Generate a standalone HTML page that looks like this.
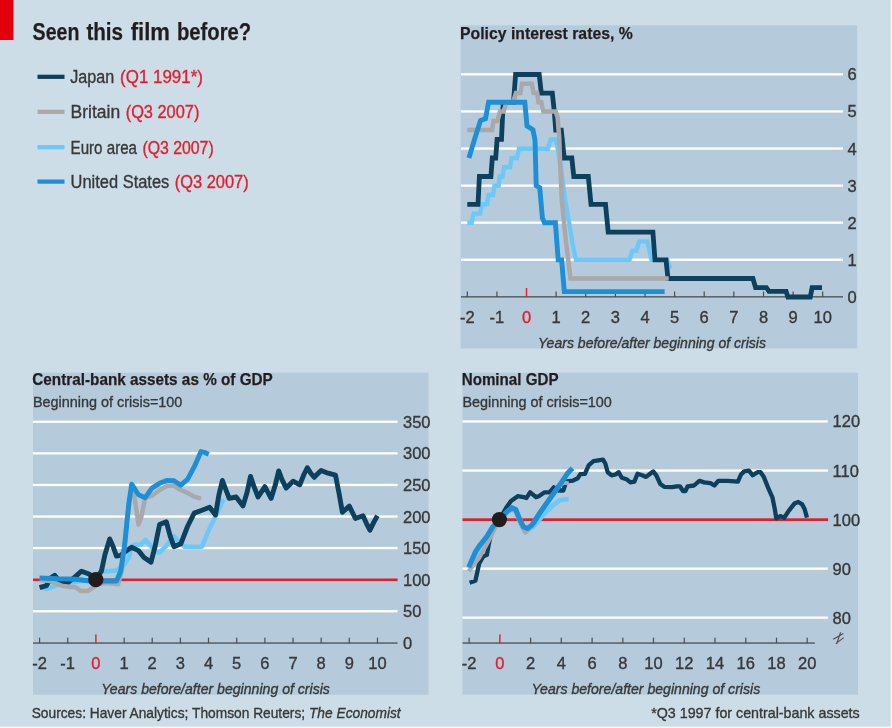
<!DOCTYPE html>
<html><head><meta charset="utf-8"><title>Seen this film before?</title>
<style>html,body{margin:0;padding:0;background:#ccdde7;}svg{display:block;font-family:"Liberation Sans",sans-serif;}</style>
</head><body>
<svg width="892" height="728" viewBox="0 0 892 728">
<rect x="0" y="0" width="892" height="728" fill="#ccdde7"/>
<rect x="890.7" y="0" width="1.3" height="728" fill="#f4f8fa"/>
<rect x="0" y="726.6" width="892" height="1.4" fill="#f4f8fa"/>
<defs><filter id="soft" x="-2%" y="-2%" width="104%" height="104%"><feGaussianBlur stdDeviation="0.45"/></filter></defs>
<g filter="url(#soft)">
<rect x="-6" y="-6" width="19.5" height="46" fill="#e3000f"/>
<rect x="460.6" y="25.3" width="396.6" height="323.2" fill="#b5cbdb"/>
<rect x="33" y="372.6" width="395.5" height="322.2" fill="#b5cbdb"/>
<rect x="462.4" y="372.6" width="395.6" height="322" fill="#b5cbdb"/>
<text x="32.6" y="40.2" font-size="23.5" fill="#231f20" stroke="#231f20" stroke-width="0.25" font-weight="bold" font-style="normal" text-anchor="start" textLength="46.8" lengthAdjust="spacingAndGlyphs">Seen</text>
<text x="86.4" y="40.2" font-size="23.5" fill="#231f20" stroke="#231f20" stroke-width="0.25" font-weight="bold" font-style="normal" text-anchor="start" textLength="36.7" lengthAdjust="spacingAndGlyphs">this</text>
<text x="130.7" y="40.2" font-size="23.5" fill="#231f20" stroke="#231f20" stroke-width="0.25" font-weight="bold" font-style="normal" text-anchor="start" textLength="39.2" lengthAdjust="spacingAndGlyphs">film</text>
<text x="177.0" y="40.2" font-size="23.5" fill="#231f20" stroke="#231f20" stroke-width="0.25" font-weight="bold" font-style="normal" text-anchor="start" textLength="74.2" lengthAdjust="spacingAndGlyphs">before?</text>
<rect x="37.5" y="74.7" width="27" height="4.2" fill="#0c3f5d"/>
<text x="70.3" y="83.2" font-size="17.5" fill="#383838" stroke="#383838" stroke-width="0.35" font-weight="normal" font-style="normal" text-anchor="start" textLength="43.9" lengthAdjust="spacingAndGlyphs">Japan</text>
<text x="120.1" y="83.2" font-size="17.5" fill="#e0202e" stroke="#e0202e" stroke-width="0.35" font-weight="normal" font-style="normal" text-anchor="start" textLength="82.8" lengthAdjust="spacingAndGlyphs">(Q1 1991*)</text>
<rect x="37.5" y="109.7" width="27" height="4.2" fill="#a9a8aa"/>
<text x="70.6" y="118.2" font-size="17.5" fill="#383838" stroke="#383838" stroke-width="0.35" font-weight="normal" font-style="normal" text-anchor="start" textLength="49.5" lengthAdjust="spacingAndGlyphs">Britain</text>
<text x="125.7" y="118.2" font-size="17.5" fill="#e0202e" stroke="#e0202e" stroke-width="0.35" font-weight="normal" font-style="normal" text-anchor="start" textLength="73.7" lengthAdjust="spacingAndGlyphs">(Q3 2007)</text>
<rect x="37.5" y="145.1" width="27" height="4.2" fill="#6cc8f6"/>
<text x="70.6" y="153.6" font-size="17.5" fill="#383838" stroke="#383838" stroke-width="0.35" font-weight="normal" font-style="normal" text-anchor="start" textLength="66.4" lengthAdjust="spacingAndGlyphs">Euro area</text>
<text x="142.4" y="153.6" font-size="17.5" fill="#e0202e" stroke="#e0202e" stroke-width="0.35" font-weight="normal" font-style="normal" text-anchor="start" textLength="71.3" lengthAdjust="spacingAndGlyphs">(Q3 2007)</text>
<rect x="37.5" y="179.5" width="27" height="4.2" fill="#1a8fd7"/>
<text x="70.6" y="188.0" font-size="17.5" fill="#383838" stroke="#383838" stroke-width="0.35" font-weight="normal" font-style="normal" text-anchor="start" textLength="98.7" lengthAdjust="spacingAndGlyphs">United States</text>
<text x="174.7" y="188.0" font-size="17.5" fill="#e0202e" stroke="#e0202e" stroke-width="0.35" font-weight="normal" font-style="normal" text-anchor="start" textLength="74.0" lengthAdjust="spacingAndGlyphs">(Q3 2007)</text>
<text x="460.1" y="38.5" font-size="17" fill="#231f20" stroke="#231f20" stroke-width="0.25" font-weight="bold" font-style="normal" text-anchor="start" textLength="172.6" lengthAdjust="spacingAndGlyphs">Policy interest rates, %</text>
<rect x="461" y="258.6" width="382" height="2.3" fill="#fff"/>
<rect x="461" y="221.5" width="382" height="2.3" fill="#fff"/>
<rect x="461" y="184.5" width="382" height="2.3" fill="#fff"/>
<rect x="461" y="147.4" width="382" height="2.3" fill="#fff"/>
<rect x="461" y="110.3" width="382" height="2.3" fill="#fff"/>
<rect x="461" y="73.2" width="382" height="2.3" fill="#fff"/>
<rect x="461" y="296.2" width="382" height="1.3" fill="#4d4d4d"/>
<rect x="466.7" y="291.5" width="1.2" height="5.5" fill="#4d4d4d"/>
<text x="467.3" y="322.6" font-size="16.5" fill="#383838" stroke="#383838" stroke-width="0.35" font-weight="normal" font-style="normal" text-anchor="middle">-2</text>
<rect x="496.3" y="291.5" width="1.2" height="5.5" fill="#4d4d4d"/>
<text x="496.9" y="322.6" font-size="16.5" fill="#383838" stroke="#383838" stroke-width="0.35" font-weight="normal" font-style="normal" text-anchor="middle">-1</text>
<rect x="525.8" y="288" width="1.4" height="9" fill="#e0202e"/>
<text x="526.5" y="322.6" font-size="16.5" fill="#e0202e" stroke="#e0202e" stroke-width="0.35" font-weight="normal" font-style="normal" text-anchor="middle">0</text>
<rect x="555.5" y="291.5" width="1.2" height="5.5" fill="#4d4d4d"/>
<text x="556.1" y="322.6" font-size="16.5" fill="#383838" stroke="#383838" stroke-width="0.35" font-weight="normal" font-style="normal" text-anchor="middle">1</text>
<rect x="585.1" y="291.5" width="1.2" height="5.5" fill="#4d4d4d"/>
<text x="585.7" y="322.6" font-size="16.5" fill="#383838" stroke="#383838" stroke-width="0.35" font-weight="normal" font-style="normal" text-anchor="middle">2</text>
<rect x="614.8" y="291.5" width="1.2" height="5.5" fill="#4d4d4d"/>
<text x="615.4" y="322.6" font-size="16.5" fill="#383838" stroke="#383838" stroke-width="0.35" font-weight="normal" font-style="normal" text-anchor="middle">3</text>
<rect x="644.4" y="291.5" width="1.2" height="5.5" fill="#4d4d4d"/>
<text x="645.0" y="322.6" font-size="16.5" fill="#383838" stroke="#383838" stroke-width="0.35" font-weight="normal" font-style="normal" text-anchor="middle">4</text>
<rect x="674.0" y="291.5" width="1.2" height="5.5" fill="#4d4d4d"/>
<text x="674.6" y="322.6" font-size="16.5" fill="#383838" stroke="#383838" stroke-width="0.35" font-weight="normal" font-style="normal" text-anchor="middle">5</text>
<rect x="703.6" y="291.5" width="1.2" height="5.5" fill="#4d4d4d"/>
<text x="704.2" y="322.6" font-size="16.5" fill="#383838" stroke="#383838" stroke-width="0.35" font-weight="normal" font-style="normal" text-anchor="middle">6</text>
<rect x="733.2" y="291.5" width="1.2" height="5.5" fill="#4d4d4d"/>
<text x="733.8" y="322.6" font-size="16.5" fill="#383838" stroke="#383838" stroke-width="0.35" font-weight="normal" font-style="normal" text-anchor="middle">7</text>
<rect x="762.9" y="291.5" width="1.2" height="5.5" fill="#4d4d4d"/>
<text x="763.5" y="322.6" font-size="16.5" fill="#383838" stroke="#383838" stroke-width="0.35" font-weight="normal" font-style="normal" text-anchor="middle">8</text>
<rect x="792.5" y="291.5" width="1.2" height="5.5" fill="#4d4d4d"/>
<text x="793.1" y="322.6" font-size="16.5" fill="#383838" stroke="#383838" stroke-width="0.35" font-weight="normal" font-style="normal" text-anchor="middle">9</text>
<rect x="822.1" y="291.5" width="1.2" height="5.5" fill="#4d4d4d"/>
<text x="822.7" y="322.6" font-size="16.5" fill="#383838" stroke="#383838" stroke-width="0.35" font-weight="normal" font-style="normal" text-anchor="middle">10</text>
<text x="847.5" y="302.8" font-size="16.5" fill="#383838" stroke="#383838" stroke-width="0.35" font-weight="normal" font-style="normal" text-anchor="start">0</text>
<text x="847.5" y="265.7" font-size="16.5" fill="#383838" stroke="#383838" stroke-width="0.35" font-weight="normal" font-style="normal" text-anchor="start">1</text>
<text x="847.5" y="228.6" font-size="16.5" fill="#383838" stroke="#383838" stroke-width="0.35" font-weight="normal" font-style="normal" text-anchor="start">2</text>
<text x="847.5" y="191.6" font-size="16.5" fill="#383838" stroke="#383838" stroke-width="0.35" font-weight="normal" font-style="normal" text-anchor="start">3</text>
<text x="847.5" y="154.5" font-size="16.5" fill="#383838" stroke="#383838" stroke-width="0.35" font-weight="normal" font-style="normal" text-anchor="start">4</text>
<text x="847.5" y="117.4" font-size="16.5" fill="#383838" stroke="#383838" stroke-width="0.35" font-weight="normal" font-style="normal" text-anchor="start">5</text>
<text x="847.5" y="80.3" font-size="16.5" fill="#383838" stroke="#383838" stroke-width="0.35" font-weight="normal" font-style="normal" text-anchor="start">6</text>
<text x="538.0" y="348.2" font-size="14.5" fill="#383838" stroke="#383838" stroke-width="0.35" font-weight="normal" font-style="italic" text-anchor="start" textLength="228.0" lengthAdjust="spacingAndGlyphs">Years before/after beginning of crisis</text>
<polyline points="467.3,222.8 471.5,222.8 473.7,213.6 480.0,213.6 482.0,204.3 487.0,204.3 488.5,195.0 493.0,195.0 494.5,185.8 498.5,185.8 500.0,176.5 502.5,176.5 504.0,167.2 510.0,167.2 511.5,158.0 517.0,158.0 519.0,148.7 548.0,148.7 550.7,139.4 556.0,139.4 558.0,150.0 560.5,165.0 565.2,200.0 569.0,222.0 572.6,244.0 576.0,259.9 629.5,259.9 632.3,250.7 636.4,250.7 639.1,241.4 647.4,241.4 649.5,250.7 651.5,259.9 667.3,259.9 670.3,268.4" fill="none" stroke="#6cc8f6" stroke-width="4.4" stroke-linejoin="miter" stroke-miterlimit="2" stroke-linecap="butt"/>
<polyline points="467.3,204.3 478.0,204.3 479.4,176.5 490.9,176.5 492.3,158.0 495.7,158.0 497.1,139.4 501.5,139.4 503.2,102.3 513.5,102.3 515.6,74.5 539.2,74.5 541.3,93.1 552.3,93.1 554.3,111.6 555.7,130.1 561.3,130.1 564.2,158.0 571.8,158.0 573.8,176.5 588.3,176.5 591.0,204.3 605.5,204.3 608.2,232.1 652.9,232.1 655.0,259.9 666.0,259.9 668.0,278.5 752.9,278.5 755.6,287.7 766.4,287.7 769.0,291.4 786.1,291.4 787.9,297.0 810.3,297.0 812.1,287.7 822.0,287.7" fill="none" stroke="#0c3f5d" stroke-width="4.8" stroke-linejoin="miter" stroke-miterlimit="2" stroke-linecap="butt"/>
<polyline points="467.3,130.1 492.0,130.1 493.5,120.9 497.4,120.9 500.0,111.6 503.5,111.6 506.5,102.3 513.0,102.3 516.0,93.1 520.4,93.1 522.0,83.8 531.7,83.8 533.7,93.1 537.2,93.1 538.5,102.3 541.3,102.3 543.4,111.6 555.7,111.6 557.6,117.7 559.2,137.0 560.0,160.0 561.8,200.0 565.8,240.0 570.5,278.5 668.7,278.5" fill="none" stroke="#a9a8aa" stroke-width="4.5" stroke-linejoin="miter" stroke-miterlimit="2" stroke-linecap="butt"/>
<polyline points="468.9,158.0 474.5,139.5 480.5,120.6 485.5,118.6 488.6,102.3 524.8,102.3 527.0,126.0 530.3,128.0 533.0,130.0 535.0,140.0 536.2,185.6 539.7,187.7 542.4,218.0 544.5,222.8 555.4,222.8 558.2,259.9 561.6,259.9 564.3,291.6 664.6,291.6" fill="none" stroke="#1a8fd7" stroke-width="4.9" stroke-linejoin="miter" stroke-miterlimit="2" stroke-linecap="butt"/>
<text x="32.3" y="385.4" font-size="17" fill="#231f20" stroke="#231f20" stroke-width="0.25" font-weight="bold" font-style="normal" text-anchor="start" textLength="240.5" lengthAdjust="spacingAndGlyphs">Central-bank assets as % of GDP</text>
<text x="32.9" y="406.7" font-size="15" fill="#383838" stroke="#383838" stroke-width="0.35" font-weight="normal" font-style="normal" text-anchor="start" textLength="149.5" lengthAdjust="spacingAndGlyphs">Beginning of crisis=100</text>
<rect x="33" y="610.1" width="364.6" height="2.3" fill="#fff"/>
<rect x="33" y="546.9" width="364.6" height="2.3" fill="#fff"/>
<rect x="33" y="515.4" width="364.6" height="2.3" fill="#fff"/>
<rect x="33" y="483.8" width="364.6" height="2.3" fill="#fff"/>
<rect x="33" y="452.2" width="364.6" height="2.3" fill="#fff"/>
<rect x="33" y="420.6" width="364.6" height="2.3" fill="#fff"/>
<rect x="33" y="578.5" width="364.6" height="2.6" fill="#d8222f"/>
<rect x="33" y="642.4" width="364.6" height="1.3" fill="#4d4d4d"/>
<rect x="39.0" y="637.7" width="1.2" height="5.5" fill="#4d4d4d"/>
<text x="39.6" y="669.0" font-size="16.5" fill="#383838" stroke="#383838" stroke-width="0.35" font-weight="normal" font-style="normal" text-anchor="middle">-2</text>
<rect x="67.1" y="637.7" width="1.2" height="5.5" fill="#4d4d4d"/>
<text x="67.7" y="669.0" font-size="16.5" fill="#383838" stroke="#383838" stroke-width="0.35" font-weight="normal" font-style="normal" text-anchor="middle">-1</text>
<rect x="95.2" y="634.5" width="1.4" height="9" fill="#e0202e"/>
<text x="95.9" y="669.0" font-size="16.5" fill="#e0202e" stroke="#e0202e" stroke-width="0.35" font-weight="normal" font-style="normal" text-anchor="middle">0</text>
<rect x="123.5" y="637.7" width="1.2" height="5.5" fill="#4d4d4d"/>
<text x="124.1" y="669.0" font-size="16.5" fill="#383838" stroke="#383838" stroke-width="0.35" font-weight="normal" font-style="normal" text-anchor="middle">1</text>
<rect x="151.6" y="637.7" width="1.2" height="5.5" fill="#4d4d4d"/>
<text x="152.2" y="669.0" font-size="16.5" fill="#383838" stroke="#383838" stroke-width="0.35" font-weight="normal" font-style="normal" text-anchor="middle">2</text>
<rect x="179.8" y="637.7" width="1.2" height="5.5" fill="#4d4d4d"/>
<text x="180.4" y="669.0" font-size="16.5" fill="#383838" stroke="#383838" stroke-width="0.35" font-weight="normal" font-style="normal" text-anchor="middle">3</text>
<rect x="207.9" y="637.7" width="1.2" height="5.5" fill="#4d4d4d"/>
<text x="208.5" y="669.0" font-size="16.5" fill="#383838" stroke="#383838" stroke-width="0.35" font-weight="normal" font-style="normal" text-anchor="middle">4</text>
<rect x="236.1" y="637.7" width="1.2" height="5.5" fill="#4d4d4d"/>
<text x="236.7" y="669.0" font-size="16.5" fill="#383838" stroke="#383838" stroke-width="0.35" font-weight="normal" font-style="normal" text-anchor="middle">5</text>
<rect x="264.3" y="637.7" width="1.2" height="5.5" fill="#4d4d4d"/>
<text x="264.9" y="669.0" font-size="16.5" fill="#383838" stroke="#383838" stroke-width="0.35" font-weight="normal" font-style="normal" text-anchor="middle">6</text>
<rect x="292.4" y="637.7" width="1.2" height="5.5" fill="#4d4d4d"/>
<text x="293.0" y="669.0" font-size="16.5" fill="#383838" stroke="#383838" stroke-width="0.35" font-weight="normal" font-style="normal" text-anchor="middle">7</text>
<rect x="320.6" y="637.7" width="1.2" height="5.5" fill="#4d4d4d"/>
<text x="321.2" y="669.0" font-size="16.5" fill="#383838" stroke="#383838" stroke-width="0.35" font-weight="normal" font-style="normal" text-anchor="middle">8</text>
<rect x="348.7" y="637.7" width="1.2" height="5.5" fill="#4d4d4d"/>
<text x="349.3" y="669.0" font-size="16.5" fill="#383838" stroke="#383838" stroke-width="0.35" font-weight="normal" font-style="normal" text-anchor="middle">9</text>
<rect x="376.9" y="637.7" width="1.2" height="5.5" fill="#4d4d4d"/>
<text x="377.5" y="669.0" font-size="16.5" fill="#383838" stroke="#383838" stroke-width="0.35" font-weight="normal" font-style="normal" text-anchor="middle">10</text>
<text x="403.0" y="648.8" font-size="16.5" fill="#383838" stroke="#383838" stroke-width="0.35" font-weight="normal" font-style="normal" text-anchor="start">0</text>
<text x="403.0" y="617.2" font-size="16.5" fill="#383838" stroke="#383838" stroke-width="0.35" font-weight="normal" font-style="normal" text-anchor="start">50</text>
<text x="403.0" y="585.6" font-size="16.5" fill="#383838" stroke="#383838" stroke-width="0.35" font-weight="normal" font-style="normal" text-anchor="start">100</text>
<text x="403.0" y="554.0" font-size="16.5" fill="#383838" stroke="#383838" stroke-width="0.35" font-weight="normal" font-style="normal" text-anchor="start">150</text>
<text x="403.0" y="522.5" font-size="16.5" fill="#383838" stroke="#383838" stroke-width="0.35" font-weight="normal" font-style="normal" text-anchor="start">200</text>
<text x="403.0" y="490.9" font-size="16.5" fill="#383838" stroke="#383838" stroke-width="0.35" font-weight="normal" font-style="normal" text-anchor="start">250</text>
<text x="403.0" y="459.3" font-size="16.5" fill="#383838" stroke="#383838" stroke-width="0.35" font-weight="normal" font-style="normal" text-anchor="start">300</text>
<text x="403.0" y="427.7" font-size="16.5" fill="#383838" stroke="#383838" stroke-width="0.35" font-weight="normal" font-style="normal" text-anchor="start">350</text>
<text x="101.2" y="694.2" font-size="14.5" fill="#383838" stroke="#383838" stroke-width="0.35" font-weight="normal" font-style="italic" text-anchor="start" textLength="228.7" lengthAdjust="spacingAndGlyphs">Years before/after beginning of crisis</text>
<polyline points="39.6,586.0 46.5,589.0 57.5,585.0 68.0,583.0 80.0,581.0 95.9,579.7 100.0,572.0 107.0,571.2 116.5,570.5 123.4,565.7 129.0,557.5 131.6,546.5 134.6,544.8 140.4,544.8 145.2,540.0 150.0,544.8 154.8,551.5 159.6,552.5 166.3,545.8 174.0,536.2 177.0,540.0 184.6,546.7 202.0,546.7 207.7,532.3 215.4,516.9 223.4,499.0" fill="none" stroke="#6cc8f6" stroke-width="4.6" stroke-linejoin="round" stroke-miterlimit="2" stroke-linecap="butt"/>
<polyline points="39.6,587.7 46.5,585.6 50.6,578.0 54.7,575.3 59.5,581.5 68.5,582.2 75.3,576.7 81.5,571.2 89.0,574.0 95.9,579.7 101.4,571.2 104.9,554.7 109.7,538.9 113.1,546.5 116.5,556.1 120.7,555.4 126.0,551.0 131.6,547.2 138.5,550.6 144.0,557.5 151.0,562.1 154.8,547.7 159.6,524.6 166.3,521.7 170.2,536.2 174.0,546.7 180.8,543.8 187.5,526.5 194.2,513.1 202.0,510.2 209.6,507.3 215.5,514.9 218.9,494.9 222.4,480.5 225.8,489.5 229.2,498.4 236.1,497.0 243.0,505.9 247.1,492.2 250.5,476.4 254.0,486.7 258.1,497.0 264.9,486.7 271.1,498.4 275.2,485.3 278.7,470.9 282.1,479.8 286.2,488.1 293.1,481.2 299.8,484.8 303.9,474.5 307.4,467.7 310.8,473.2 314.2,477.3 317.7,473.8 321.1,470.4 328.0,473.2 335.5,475.2 339.0,493.1 342.4,512.3 349.3,506.1 355.4,518.5 363.0,515.7 366.4,523.3 369.9,530.2 374.0,521.9 377.4,515.7" fill="none" stroke="#0c3f5d" stroke-width="4.9" stroke-linejoin="round" stroke-miterlimit="2" stroke-linecap="butt"/>
<polyline points="39.6,580.0 50.0,581.0 61.6,585.6 69.8,587.0 75.3,587.0 80.8,591.0 87.7,591.0 91.8,588.4 98.0,584.0 107.0,582.9 118.0,584.3 122.0,570.0 127.0,520.0 131.7,486.2 134.6,497.7 138.5,524.6 141.3,516.9 145.2,497.7 151.9,495.8 159.6,490.0 167.3,485.8 174.0,485.8 180.8,490.0 187.5,492.9 194.2,496.7 201.0,498.7" fill="none" stroke="#a9a8aa" stroke-width="4.5" stroke-linejoin="round" stroke-miterlimit="2" stroke-linecap="butt"/>
<polyline points="39.6,578.0 57.5,578.8 75.3,579.2 87.7,580.8 100.0,581.0 116.5,581.0 120.7,571.2 124.8,543.7 128.8,503.5 131.7,484.2 138.5,494.8 145.2,497.7 151.9,488.1 159.6,483.3 167.3,480.4 174.0,480.8 180.8,485.2 187.5,479.4 194.2,466.9 201.0,451.5 204.8,452.5 208.7,454.4" fill="none" stroke="#1a8fd7" stroke-width="4.9" stroke-linejoin="round" stroke-miterlimit="2" stroke-linecap="butt"/>
<circle cx="95.8" cy="579.7" r="7.6" fill="#231f1c"/>
<text x="461.7" y="385.4" font-size="17" fill="#231f20" stroke="#231f20" stroke-width="0.25" font-weight="bold" font-style="normal" text-anchor="start" textLength="96.8" lengthAdjust="spacingAndGlyphs">Nominal GDP</text>
<text x="462.4" y="406.7" font-size="15" fill="#383838" stroke="#383838" stroke-width="0.35" font-weight="normal" font-style="normal" text-anchor="start" textLength="149.5" lengthAdjust="spacingAndGlyphs">Beginning of crisis=100</text>
<rect x="462.5" y="616.5" width="365.3" height="2.3" fill="#fff"/>
<rect x="462.5" y="567.5" width="365.3" height="2.3" fill="#fff"/>
<rect x="462.5" y="469.4" width="365.3" height="2.3" fill="#fff"/>
<rect x="462.5" y="420.3" width="365.3" height="2.3" fill="#fff"/>
<rect x="462.5" y="518.3" width="365.6" height="2.8" fill="#d8222f"/>
<rect x="462.5" y="642.4" width="352.3" height="1.3" fill="#4d4d4d"/>
<rect x="468.5" y="637.7" width="1.2" height="5.5" fill="#4d4d4d"/>
<text x="469.1" y="669.0" font-size="16.5" fill="#383838" stroke="#383838" stroke-width="0.35" font-weight="normal" font-style="normal" text-anchor="middle">-2</text>
<rect x="499.2" y="634.5" width="1.4" height="9" fill="#e0202e"/>
<text x="499.9" y="669.0" font-size="16.5" fill="#e0202e" stroke="#e0202e" stroke-width="0.35" font-weight="normal" font-style="normal" text-anchor="middle">0</text>
<rect x="530.0" y="637.7" width="1.2" height="5.5" fill="#4d4d4d"/>
<text x="530.6" y="669.0" font-size="16.5" fill="#383838" stroke="#383838" stroke-width="0.35" font-weight="normal" font-style="normal" text-anchor="middle">2</text>
<rect x="560.7" y="637.7" width="1.2" height="5.5" fill="#4d4d4d"/>
<text x="561.3" y="669.0" font-size="16.5" fill="#383838" stroke="#383838" stroke-width="0.35" font-weight="normal" font-style="normal" text-anchor="middle">4</text>
<rect x="591.5" y="637.7" width="1.2" height="5.5" fill="#4d4d4d"/>
<text x="592.1" y="669.0" font-size="16.5" fill="#383838" stroke="#383838" stroke-width="0.35" font-weight="normal" font-style="normal" text-anchor="middle">6</text>
<rect x="622.2" y="637.7" width="1.2" height="5.5" fill="#4d4d4d"/>
<text x="622.8" y="669.0" font-size="16.5" fill="#383838" stroke="#383838" stroke-width="0.35" font-weight="normal" font-style="normal" text-anchor="middle">8</text>
<rect x="652.9" y="637.7" width="1.2" height="5.5" fill="#4d4d4d"/>
<text x="653.5" y="669.0" font-size="16.5" fill="#383838" stroke="#383838" stroke-width="0.35" font-weight="normal" font-style="normal" text-anchor="middle">10</text>
<rect x="683.7" y="637.7" width="1.2" height="5.5" fill="#4d4d4d"/>
<text x="684.3" y="669.0" font-size="16.5" fill="#383838" stroke="#383838" stroke-width="0.35" font-weight="normal" font-style="normal" text-anchor="middle">12</text>
<rect x="714.4" y="637.7" width="1.2" height="5.5" fill="#4d4d4d"/>
<text x="715.0" y="669.0" font-size="16.5" fill="#383838" stroke="#383838" stroke-width="0.35" font-weight="normal" font-style="normal" text-anchor="middle">14</text>
<rect x="745.2" y="637.7" width="1.2" height="5.5" fill="#4d4d4d"/>
<text x="745.8" y="669.0" font-size="16.5" fill="#383838" stroke="#383838" stroke-width="0.35" font-weight="normal" font-style="normal" text-anchor="middle">16</text>
<rect x="775.9" y="637.7" width="1.2" height="5.5" fill="#4d4d4d"/>
<text x="776.5" y="669.0" font-size="16.5" fill="#383838" stroke="#383838" stroke-width="0.35" font-weight="normal" font-style="normal" text-anchor="middle">18</text>
<rect x="806.6" y="637.7" width="1.2" height="5.5" fill="#4d4d4d"/>
<text x="807.2" y="669.0" font-size="16.5" fill="#383838" stroke="#383838" stroke-width="0.35" font-weight="normal" font-style="normal" text-anchor="middle">20</text>
<text x="832.6" y="623.6" font-size="16.5" fill="#383838" stroke="#383838" stroke-width="0.35" font-weight="normal" font-style="normal" text-anchor="start">80</text>
<text x="832.6" y="574.5" font-size="16.5" fill="#383838" stroke="#383838" stroke-width="0.35" font-weight="normal" font-style="normal" text-anchor="start">90</text>
<text x="832.6" y="525.5" font-size="16.5" fill="#383838" stroke="#383838" stroke-width="0.35" font-weight="normal" font-style="normal" text-anchor="start">100</text>
<text x="832.6" y="476.5" font-size="16.5" fill="#383838" stroke="#383838" stroke-width="0.35" font-weight="normal" font-style="normal" text-anchor="start">110</text>
<text x="832.6" y="427.4" font-size="16.5" fill="#383838" stroke="#383838" stroke-width="0.35" font-weight="normal" font-style="normal" text-anchor="start">120</text>
<path d="M833.2,639.3 L843.4,633.4 M835.8,643.6 L843.8,637.6 M840.6,632.2 L836.6,644" fill="none" stroke="#4d4d4d" stroke-width="1.1"/>
<text x="531.5" y="694.2" font-size="14.5" fill="#383838" stroke="#383838" stroke-width="0.35" font-weight="normal" font-style="italic" text-anchor="start" textLength="228.7" lengthAdjust="spacingAndGlyphs">Years before/after beginning of crisis</text>
<polyline points="468.7,568.0 479.2,548.0 492.7,527.5 499.4,519.6 507.0,512.0 512.0,508.5 516.0,510.0 520.0,520.0 524.0,528.0 528.0,530.0 533.0,527.0 542.7,515.4 552.3,505.8 560.0,500.0 568.7,499.0" fill="none" stroke="#6cc8f6" stroke-width="4.7" stroke-linejoin="round" stroke-miterlimit="2" stroke-linecap="butt"/>
<polyline points="469.6,582.7 475.4,580.8 479.2,563.5 483.1,556.7 486.9,554.8 488.8,544.2 490.5,536.0 493.5,527.0 499.4,519.6 506.2,507.7 511.0,501.0 517.7,496.2 523.5,497.1 526.3,498.1 530.2,492.3 536.0,497.1 538.8,496.2 544.6,492.3 549.5,492.3 553.8,487.3 558.5,490.5 563.3,490.5 566.4,481.4 572.9,480.6 577.8,478.2 580.3,474.2 584.9,473.8 588.8,465.1 593.5,461.2 603.0,459.6 605.3,463.5 607.7,472.2 611.6,475.3 615.5,474.5 618.7,472.2 621.8,477.7 626.5,479.2 630.4,482.4 634.4,481.6 637.5,473.8 642.2,475.3 646.1,476.9 650.1,473.8 653.2,471.4 656.3,475.3 660.3,484.0 664.2,486.8 672.0,487.1 676.8,486.3 679.9,486.3 683.0,491.0 685.4,491.0 687.7,486.3 694.0,485.5 699.4,480.8 704.1,482.4 710.4,483.2 714.3,485.5 718.3,480.8 727.7,480.8 737.9,481.6 741.0,474.5 744.2,471.4 748.9,470.6 752.8,475.3 757.5,472.2 760.6,472.2 763.8,476.9 768.5,488.7 772.4,497.3 774.8,509.1 776.3,518.5 780.3,516.1 784.2,517.7 788.9,510.6 794.4,503.6 798.3,502.0 802.2,504.4 804.6,509.1 807.0,517.7" fill="none" stroke="#0c3f5d" stroke-width="4.3" stroke-linejoin="round" stroke-miterlimit="2" stroke-linecap="butt"/>
<polyline points="468.7,571.2 479.2,557.7 488.0,542.0 499.4,519.6 507.0,512.0 512.0,509.0 516.0,512.0 520.5,524.0 525.4,532.7 531.0,526.5 540.0,512.5 550.0,498.5 559.5,485.0 564.0,482.5 568.6,483.5" fill="none" stroke="#a9a8aa" stroke-width="4.3" stroke-linejoin="round" stroke-miterlimit="2" stroke-linecap="butt"/>
<polyline points="468.7,567.3 475.4,551.9 479.2,546.2 486.9,536.5 492.7,526.9 499.4,519.6 507.1,511.5 511.9,507.7 515.8,509.6 519.6,519.2 523.5,526.9 527.3,528.5 532.1,525.0 540.8,511.5 550.4,498.1 560.0,484.6 567.7,473.1 572.5,468.3" fill="none" stroke="#1a8fd7" stroke-width="5.1" stroke-linejoin="round" stroke-miterlimit="2" stroke-linecap="butt"/>
<circle cx="499.4" cy="519.6" r="7.6" fill="#231f1c"/>
<text x="31.7" y="718.4" font-size="15" fill="#383838" stroke="#383838" stroke-width="0.35" textLength="369" lengthAdjust="spacingAndGlyphs">Sources: Haver Analytics; Thomson Reuters; <tspan font-style="italic">The Economist</tspan></text>
<text x="651.2" y="718.4" font-size="15" fill="#383838" stroke="#383838" stroke-width="0.35" font-weight="normal" font-style="normal" text-anchor="start" textLength="208.5" lengthAdjust="spacingAndGlyphs">*Q3 1997 for central-bank assets</text>
</g>
</svg></body></html>
